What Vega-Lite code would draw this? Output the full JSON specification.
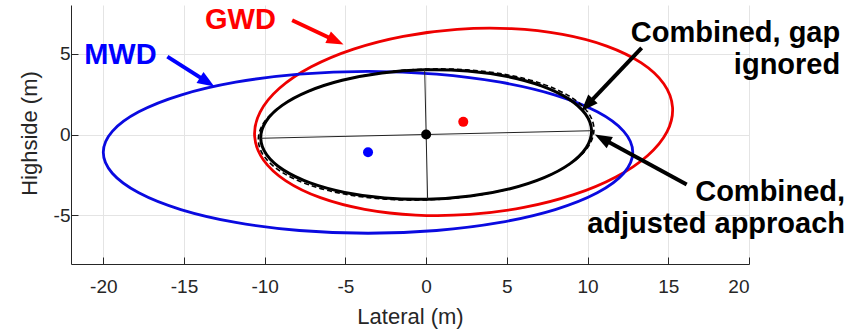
{
  "$schema": "https://vega.github.io/schema/vega-lite/v6.json",
  "width": 678,
  "height": 259,
  "autosize": {"type": "none"},
  "padding": {"left": 71, "top": 5, "right": 101, "bottom": 65},
  "background": "white",
  "config": {
    "view": {"stroke": null},
    "axis": {
      "labelFont": "Liberation Sans",
      "labelFontSize": 19,
      "labelColor": "#262626",
      "titleFont": "Liberation Sans",
      "titleFontSize": 22,
      "titleFontWeight": "normal",
      "titleColor": "#262626",
      "domainColor": "#262626",
      "domainWidth": 1,
      "tickColor": "#262626",
      "tickWidth": 1,
      "gridColor": "#e4e4e4",
      "gridWidth": 1
    }
  },
  "datasets": {
    "ell": [
      {"s":"MWD","i":0,"x":12.8,"y":-1.1},{"s":"MWD","i":1,"x":12.241,"y":0.194},{"s":"MWD","i":2,"x":10.602,"y":1.4},{"s":"MWD","i":3,"x":7.996,"y":2.436},{"s":"MWD","i":4,"x":4.6,"y":3.23},{"s":"MWD","i":5,"x":0.644,"y":3.73},{"s":"MWD","i":6,"x":-3.6,"y":3.9},{"s":"MWD","i":7,"x":-7.844,"y":3.73},{"s":"MWD","i":8,"x":-11.8,"y":3.23},{"s":"MWD","i":9,"x":-15.196,"y":2.436},{"s":"MWD","i":10,"x":-17.802,"y":1.4},{"s":"MWD","i":11,"x":-19.441,"y":0.194},{"s":"MWD","i":12,"x":-20.0,"y":-1.1},{"s":"MWD","i":13,"x":-19.441,"y":-2.394},{"s":"MWD","i":14,"x":-17.802,"y":-3.6},{"s":"MWD","i":15,"x":-15.196,"y":-4.636},{"s":"MWD","i":16,"x":-11.8,"y":-5.43},{"s":"MWD","i":17,"x":-7.844,"y":-5.93},{"s":"MWD","i":18,"x":-3.6,"y":-6.1},{"s":"MWD","i":19,"x":0.644,"y":-5.93},{"s":"MWD","i":20,"x":4.6,"y":-5.43},{"s":"MWD","i":21,"x":7.996,"y":-4.636},{"s":"MWD","i":22,"x":10.602,"y":-3.6},{"s":"MWD","i":23,"x":12.241,"y":-2.394},
      {"s":"GWD","i":0,"x":15.263,"y":1.685},{"s":"GWD","i":1,"x":14.719,"y":3.134},{"s":"GWD","i":2,"x":13.329,"y":4.422},{"s":"GWD","i":3,"x":11.189,"y":5.463},{"s":"GWD","i":4,"x":8.445,"y":6.184},{"s":"GWD","i":5,"x":5.283,"y":6.536},{"s":"GWD","i":6,"x":1.92,"y":6.497},{"s":"GWD","i":7,"x":-1.416,"y":6.068},{"s":"GWD","i":8,"x":-4.498,"y":5.278},{"s":"GWD","i":9,"x":-7.115,"y":4.183},{"s":"GWD","i":10,"x":-9.089,"y":2.855},{"s":"GWD","i":11,"x":-10.286,"y":1.385},{"s":"GWD","i":12,"x":-10.623,"y":-0.125},{"s":"GWD","i":13,"x":-10.079,"y":-1.574},{"s":"GWD","i":14,"x":-8.689,"y":-2.862},{"s":"GWD","i":15,"x":-6.549,"y":-3.903},{"s":"GWD","i":16,"x":-3.805,"y":-4.624},{"s":"GWD","i":17,"x":-0.643,"y":-4.976},{"s":"GWD","i":18,"x":2.72,"y":-4.937},{"s":"GWD","i":19,"x":6.056,"y":-4.508},{"s":"GWD","i":20,"x":9.138,"y":-3.718},{"s":"GWD","i":21,"x":11.755,"y":-2.623},{"s":"GWD","i":22,"x":13.729,"y":-1.295},{"s":"GWD","i":23,"x":14.926,"y":0.175},
      {"s":"gap","i":0,"x":10.394,"y":0.363},{"s":"gap","i":1,"x":10.003,"y":1.396},{"s":"gap","i":2,"x":8.931,"y":2.333},{"s":"gap","i":3,"x":7.25,"y":3.112},{"s":"gap","i":4,"x":5.075,"y":3.678},{"s":"gap","i":5,"x":2.554,"y":3.994},{"s":"gap","i":6,"x":-0.141,"y":4.0375},{"s":"gap","i":7,"x":-2.826,"y":3.806},{"s":"gap","i":8,"x":-5.319,"y":3.315},{"s":"gap","i":9,"x":-7.45,"y":2.598},{"s":"gap","i":10,"x":-9.072,"y":1.704},{"s":"gap","i":11,"x":-10.077,"y":0.694},{"s":"gap","i":12,"x":-10.394,"y":-0.363},{"s":"gap","i":13,"x":-10.003,"y":-1.396},{"s":"gap","i":14,"x":-8.931,"y":-2.333},{"s":"gap","i":15,"x":-7.25,"y":-3.112},{"s":"gap","i":16,"x":-5.075,"y":-3.678},{"s":"gap","i":17,"x":-2.554,"y":-3.994},{"s":"gap","i":18,"x":0.141,"y":-4.0375},{"s":"gap","i":19,"x":2.826,"y":-3.806},{"s":"gap","i":20,"x":5.319,"y":-3.315},{"s":"gap","i":21,"x":7.45,"y":-2.598},{"s":"gap","i":22,"x":9.072,"y":-1.704},{"s":"gap","i":23,"x":10.077,"y":-0.694},
      {"s":"adj","i":0,"x":10.247,"y":0.233},{"s":"adj","i":1,"x":9.874,"y":1.26},{"s":"adj","i":2,"x":8.829,"y":2.201},{"s":"adj","i":3,"x":7.182,"y":2.992},{"s":"adj","i":4,"x":5.045,"y":3.579},{"s":"adj","i":5,"x":2.564,"y":3.923},{"s":"adj","i":6,"x":-0.091,"y":3.999},{"s":"adj","i":7,"x":-2.74,"y":3.803},{"s":"adj","i":8,"x":-5.202,"y":3.347},{"s":"adj","i":9,"x":-7.31,"y":2.663},{"s":"adj","i":10,"x":-8.919,"y":1.798},{"s":"adj","i":11,"x":-9.921,"y":0.81},{"s":"adj","i":12,"x":-10.247,"y":-0.233},{"s":"adj","i":13,"x":-9.874,"y":-1.26},{"s":"adj","i":14,"x":-8.829,"y":-2.201},{"s":"adj","i":15,"x":-7.182,"y":-2.992},{"s":"adj","i":16,"x":-5.045,"y":-3.579},{"s":"adj","i":17,"x":-2.564,"y":-3.923},{"s":"adj","i":18,"x":0.091,"y":-3.999},{"s":"adj","i":19,"x":2.74,"y":-3.803},{"s":"adj","i":20,"x":5.202,"y":-3.347},{"s":"adj","i":21,"x":7.31,"y":-2.663},{"s":"adj","i":22,"x":8.919,"y":-1.798},{"s":"adj","i":23,"x":9.921,"y":-0.81}
    ],
    "axes": [
      {"x": -10.247, "y": -0.233, "x2": 10.247, "y2": 0.233},
      {"x": 0.091, "y": -3.999, "x2": -0.091, "y2": 3.999}
    ],
    "centers": [
      {"c": "MWD", "x": -3.6, "y": -1.1},
      {"c": "GWD", "x": 2.3, "y": 0.78},
      {"c": "Combined", "x": 0, "y": 0}
    ],
    "shafts": [
      {"c": "MWD", "x": -16.03, "y": 4.81, "x2": -13.64, "y2": 3.30},
      {"c": "GWD", "x": -8.30, "y": 7.06, "x2": -5.67, "y2": 5.82},
      {"c": "Combined", "x": 13.35, "y": 5.35, "x2": 10.05, "y2": 1.89},
      {"c": "Combined", "x": 16.14, "y": -3.09, "x2": 10.99, "y2": -0.30}
    ],
    "heads": [
      {"c": "MWD", "x": -13.12, "y": 2.96, "heading": 122.5},
      {"c": "GWD", "x": -5.12, "y": 5.56, "heading": 115.3},
      {"c": "Combined", "x": 9.61, "y": 1.44, "heading": 223.4},
      {"c": "Combined", "x": 10.45, "y": 0.0, "heading": 298.6}
    ],
    "labelsC": [
      {"c": "MWD", "x": -18.94, "y": 4.34, "text": "MWD"},
      {"c": "GWD", "x": -11.5, "y": 6.5, "text": "GWD"}
    ],
    "labelsR": [
      {"x": 25.65, "y": 5.72, "text": "Combined, gap"},
      {"x": 25.65, "y": 3.72, "text": "ignored"},
      {"x": 25.95, "y": -4.11, "text": "Combined,"},
      {"x": 25.95, "y": -6.07, "text": "adjusted approach"}
    ]
  },
  "encoding": {
    "x": {
      "field": "x",
      "type": "quantitative",
      "scale": {"domain": [-22, 20], "nice": false, "zero": false},
      "axis": {
        "title": "Lateral (m)",
        "values": [-20, -15, -10, -5, 0, 5, 10, 15, 20],
        "labelExpr": "'' + datum.value",
        "tickSize": -7,
        "labelPadding": 20,
        "titleY": 59,
        "titleBaseline": "alphabetic"
      }
    },
    "y": {
      "field": "y",
      "type": "quantitative",
      "scale": {"domain": [-8, 8], "nice": false, "zero": false},
      "axis": {
        "title": "Highside (m)",
        "values": [-5, 0, 5],
        "labelExpr": "'' + datum.value",
        "tickSize": -7,
        "labelPadding": 8,
        "titleX": -35,
        "titleY": 128,
        "titleBaseline": "alphabetic"
      }
    }
  },
  "layer": [
    {
      "data": {"name": "ell"},
      "transform": [{"filter": "datum.s === 'GWD'"}],
      "mark": {"type": "line", "interpolate": "cardinal-closed", "color": "#ee0000", "strokeWidth": 2.8},
      "encoding": {"order": {"field": "i", "type": "quantitative"}}
    },
    {
      "data": {"name": "ell"},
      "transform": [{"filter": "datum.s === 'MWD'"}],
      "mark": {"type": "line", "interpolate": "cardinal-closed", "color": "#0a0ae0", "strokeWidth": 2.8},
      "encoding": {"order": {"field": "i", "type": "quantitative"}}
    },
    {
      "data": {"name": "ell"},
      "transform": [{"filter": "datum.s === 'gap'"}],
      "mark": {"type": "line", "interpolate": "cardinal-closed", "color": "#000000", "strokeWidth": 1.6, "strokeDash": [5, 3]},
      "encoding": {"order": {"field": "i", "type": "quantitative"}}
    },
    {
      "data": {"name": "ell"},
      "transform": [{"filter": "datum.s === 'adj'"}],
      "mark": {"type": "line", "interpolate": "cardinal-closed", "color": "#000000", "strokeWidth": 3},
      "encoding": {"order": {"field": "i", "type": "quantitative"}}
    },
    {
      "data": {"name": "axes"},
      "mark": {"type": "rule", "color": "#222222", "strokeWidth": 1},
      "encoding": {"x2": {"field": "x2"}, "y2": {"field": "y2"}}
    },
    {
      "data": {"name": "centers"},
      "mark": {"type": "point", "shape": "circle", "filled": true, "size": 100, "opacity": 1},
      "encoding": {
        "color": {"field": "c", "type": "nominal", "scale": {"domain": ["MWD", "GWD", "Combined"], "range": ["#0000ff", "#ff0000", "#000000"]}, "legend": null}
      }
    },
    {
      "data": {"name": "shafts"},
      "mark": {"type": "rule", "strokeWidth": 4},
      "encoding": {
        "x2": {"field": "x2"},
        "y2": {"field": "y2"},
        "color": {"field": "c", "type": "nominal", "scale": {"domain": ["MWD", "GWD", "Combined"], "range": ["#0000ff", "#ff0000", "#000000"]}, "legend": null}
      }
    },
    {
      "data": {"name": "heads"},
      "mark": {"type": "point", "shape": "M0,0L-0.38,1L0.38,1Z", "filled": true, "size": 1156, "opacity": 1, "strokeWidth": 0},
      "encoding": {
        "angle": {"field": "heading", "type": "quantitative", "scale": null},
        "color": {"field": "c", "type": "nominal", "scale": {"domain": ["MWD", "GWD", "Combined"], "range": ["#0000ff", "#ff0000", "#000000"]}, "legend": null}
      }
    },
    {
      "data": {"name": "labelsC"},
      "mark": {"type": "text", "font": "Liberation Sans", "fontWeight": "bold", "fontSize": 29, "align": "center", "baseline": "alphabetic"},
      "encoding": {
        "text": {"field": "text"},
        "color": {"field": "c", "type": "nominal", "scale": {"domain": ["MWD", "GWD", "Combined"], "range": ["#0000ff", "#ff0000", "#000000"]}, "legend": null}
      }
    },
    {
      "data": {"name": "labelsR"},
      "mark": {"type": "text", "font": "Liberation Sans", "fontWeight": "bold", "fontSize": 29, "align": "right", "baseline": "alphabetic", "color": "#000000"},
      "encoding": {"text": {"field": "text"}}
    }
  ]
}
